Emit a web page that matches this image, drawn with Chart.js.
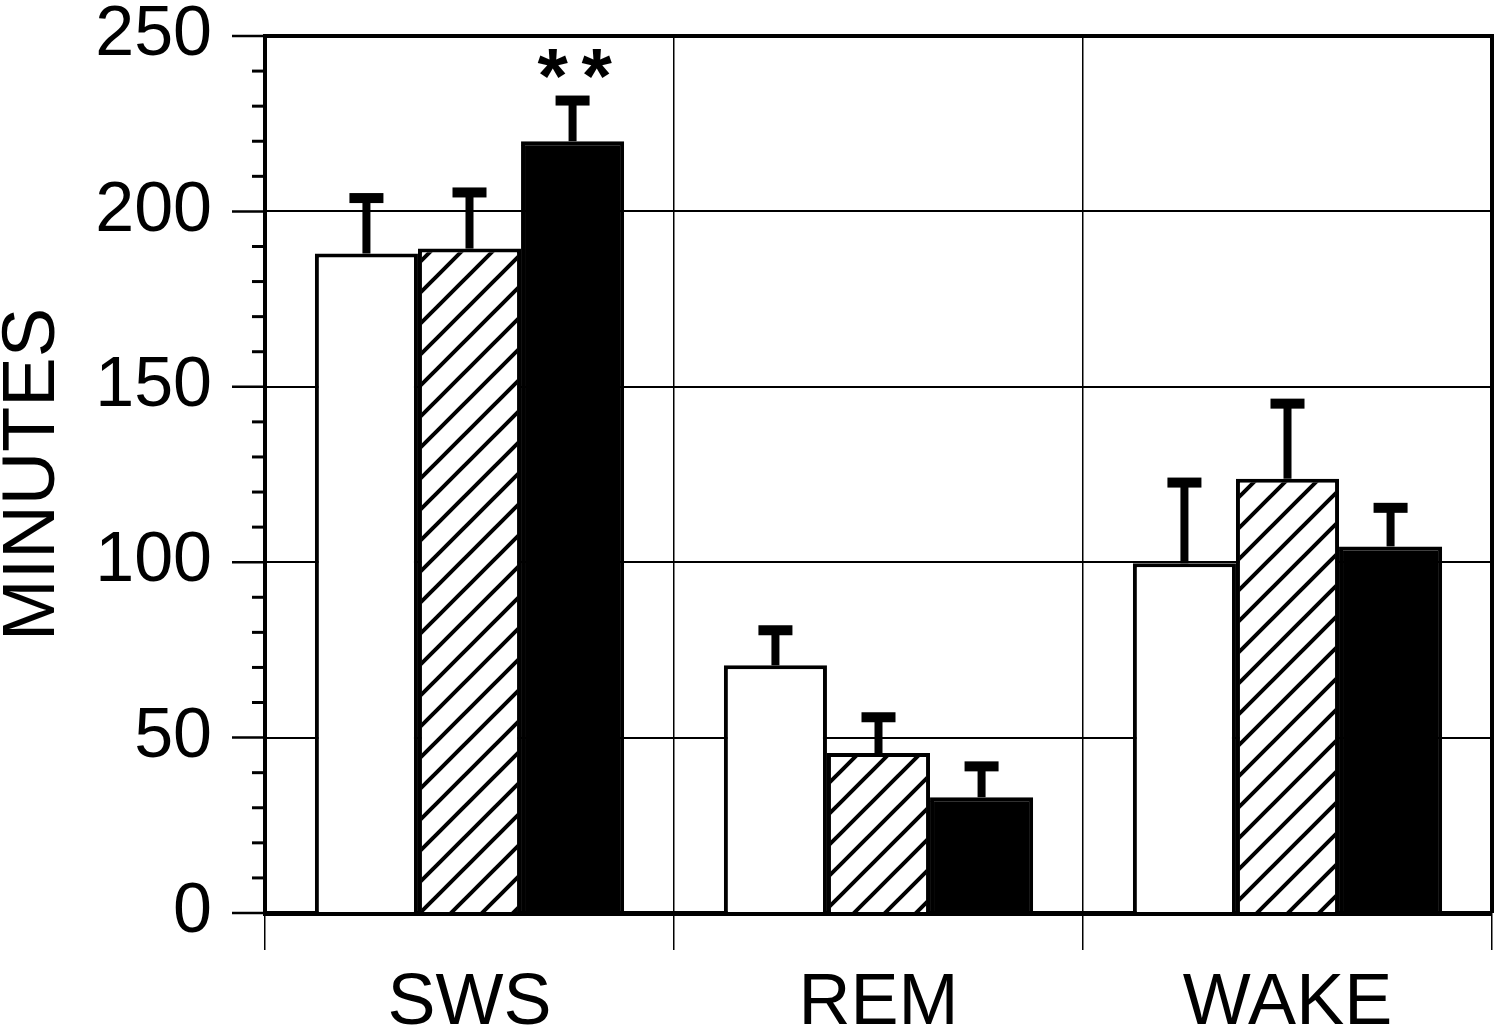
<!DOCTYPE html>
<html>
<head>
<meta charset="utf-8">
<script src="https://cdn.jsdelivr.net/npm/chart.js@4.4.1/dist/chart.umd.min.js"></script>
<style>
    html, body { margin: 0; padding: 0; background: #fff; }
    #wrap { width: 1500px; height: 1036px; position: relative; }
</style>
</head>
<body>
<div id="wrap"><canvas id="chart"></canvas></div>
<script>
// Sleep stage totals (minutes), mean + upper error bar
const categories = ["SWS", "REM", "WAKE"];
const openValues = [188, 70.6, 99.7];
const openErrors = [15.8, 10, 23];
const hatchValues = [189.4, 45.6, 123.8];
const hatchErrors = [16, 10.2, 21.4];
const solidValues = [220, 33, 104.5];
const solidErrors = [11.6, 8.8, 11];
const solidMarks = ["**", "", ""]; // significance marks above the solid bars
const yMin = 0;
const yMax = 250;
const yStep = 10;
const yLabelStep = 50;

const FONT = "'Liberation Sans', Arial, Helvetica, sans-serif";

// diagonal hatch fill for the middle series
function makeHatch(ctx) {
    const s = 31;
    const c = document.createElement("canvas");
    c.width = s; c.height = s;
    const g = c.getContext("2d");
    g.fillStyle = "#fff";
    g.fillRect(0, 0, s, s);
    g.strokeStyle = "#000";
    g.lineWidth = 4;
    g.beginPath();
    g.moveTo(-4, s + 4); g.lineTo(s + 4, -4);
    g.moveTo(-4, 4); g.lineTo(4, -4);
    g.moveTo(s - 4, s + 4); g.lineTo(s + 4, s - 4);
    g.stroke();
    return ctx.createPattern(c, "repeat");
}

// error bars (upper only), significance marks, minor y ticks and frame
const extras = {
    id: "extras",
    afterDatasetsDraw(chart) {
        const ctx = chart.ctx;
        const y = chart.scales.y;
        const area = chart.chartArea;
        ctx.save();
        ctx.fillStyle = "#000";
        ctx.strokeStyle = "#000";
        chart.data.datasets.forEach((ds, di) => {
            const meta = chart.getDatasetMeta(di);
            meta.data.forEach((bar, i) => {
                const top = y.getPixelForValue(ds.data[i] + ds.errors[i]);
                ctx.fillRect(bar.x - 4, top, 8, bar.y - top);
                ctx.fillRect(bar.x - 17, top - 5, 34, 10);
                const mark = ds.marks ? ds.marks[i] : "";
                if (mark) {
                    ctx.font = "bold 78px " + FONT;
                    ctx.textAlign = "center";
                    ctx.textBaseline = "alphabetic";
                    const n = mark.length;
                    for (let k = 0; k < n; k++) {
                        ctx.fillText("*", bar.x + 2 + (k - (n - 1) / 2) * 44, top + 2);
                    }
                }
            });
        });

        // y tick marks: long at labelled values, short elsewhere
        y.ticks.forEach(t => {
            const py = y.getPixelForValue(t.value);
            const major = t.value % yLabelStep === 0;
            ctx.lineWidth = major ? 2.5 : 3;
            ctx.beginPath();
            ctx.moveTo(area.left - (major ? 33 : 13), py);
            ctx.lineTo(area.left, py);
            ctx.stroke();
        });

        // frame: top and right edges
        ctx.lineWidth = 4;
        ctx.beginPath();
        ctx.moveTo(area.left, area.top);
        ctx.lineTo(area.right, area.top);
        ctx.lineTo(area.right, area.bottom);
        ctx.stroke();
        ctx.restore();
    }
};

const ctx = document.getElementById("chart").getContext("2d");
new Chart(ctx, {
    type: "bar",
    data: {
        labels: categories,
        datasets: [{
            label: "open",
            data: openValues,
            errors: openErrors,
            backgroundColor: "#fff",
            borderColor: "#000",
            borderWidth: 4
        }, {
            label: "hatched",
            data: hatchValues,
            errors: hatchErrors,
            backgroundColor: makeHatch(ctx),
            borderColor: "#000",
            borderWidth: 4
        }, {
            label: "solid",
            data: solidValues,
            errors: solidErrors,
            marks: solidMarks,
            backgroundColor: "#000",
            borderColor: "#000",
            borderWidth: 4
        }]
    },
    options: {
        responsive: true,
        maintainAspectRatio: false,
        animation: false,
        events: [],
        categoryPercentage: 0.756,
        barPercentage: 1,
        layout: { padding: { top: 36, right: 8, bottom: 0, left: 0 } },
        plugins: {
            legend: { display: false },
            tooltip: { enabled: false }
        },
        scales: {
            x: {
                offset: true,
                grid: {
                    offset: true,
                    color: "#000",
                    lineWidth: 1.5,
                    tickLength: 37,
                    drawTicks: true
                },
                border: { display: true, color: "#000", width: 5 },
                ticks: {
                    color: "#000",
                    padding: 11,
                    font: { family: FONT, size: 72, lineHeight: 1.2 }
                },
                afterFit(scale) { scale.height = 123; }
            },
            y: {
                min: yMin,
                max: yMax,
                grid: {
                    drawTicks: false,
                    lineWidth: 2,
                    color: c => (c.tick && c.tick.value % yLabelStep === 0 &&
                        c.tick.value !== yMin && c.tick.value !== yMax) ? "#000" : "rgba(0,0,0,0)"
                },
                border: { display: true, color: "#000", width: 4 },
                ticks: {
                    stepSize: yStep,
                    autoSkip: false,
                    color: "#000",
                    padding: 53,
                    font: { family: FONT, size: 70, lineHeight: 1 },
                    callback: v => (v % yLabelStep === 0 ? v : "")
                },
                title: {
                    display: true,
                    text: "MINUTES",
                    color: "#000",
                    padding: 0,
                    font: { family: FONT, size: 74, lineHeight: 0.9 }
                },
                afterFit(scale) {
                    scale.width = 265;
                    scale.paddingTop = 0;
                    scale.paddingBottom = 0;
                }
            }
        }
    },
    plugins: [extras]
});
</script>
</body>
</html>
